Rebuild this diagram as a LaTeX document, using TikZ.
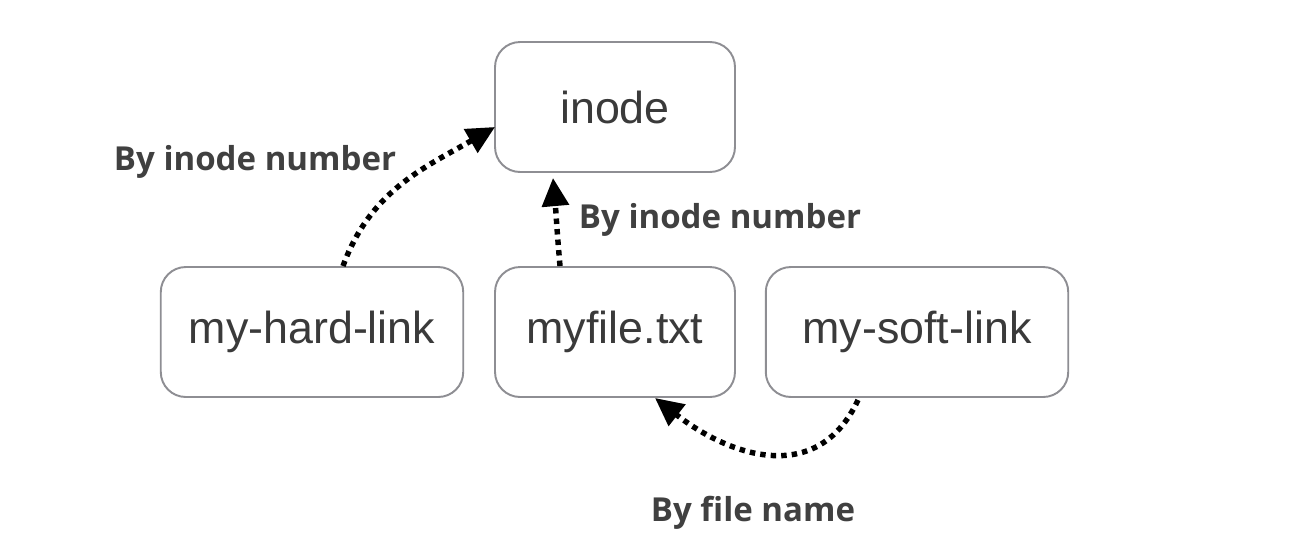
\documentclass[tikz,border=0pt]{standalone}
\usepackage{fontspec}
\setmainfont{Liberation Sans}
\newfontfamily\lblfont{Open Sans}
\usetikzlibrary{arrows.meta}
\definecolor{boxline}{HTML}{8E8E93}
\definecolor{boxtext}{HTML}{3A3A3A}
\definecolor{lbltext}{HTML}{404040}
\tikzset{
  fbox/.style={draw=boxline, line width=1.1pt, rounded corners=0.5cm,
    minimum width=4.8cm, minimum height=2.6cm, text=boxtext,
    font=\fontsize{25.5}{30}\selectfont, inner sep=0pt},
  widebox/.style={fbox, minimum width=6.05cm},
  dotarrow/.style={line width=3.1pt, dash pattern=on 3.1pt off 2.9pt,
    -{Triangle[length=16pt,width=15pt]}},
  lbl/.style={text=lbltext, font=\lblfont\bfseries\fontsize{18.8}{22}\selectfont, inner sep=0pt}
}
\begin{document}
\begin{tikzpicture}[x=0.02cm,y=-0.02cm]
\useasboundingbox (0,0) rectangle (1300,552);
\node[fbox] (inode) at (615,107) {inode};
\node[widebox] (hard) at (312,332) {my-hard-link};
\node[fbox] (file) at (615,332) {myfile.txt};
\node[widebox] (soft) at (917,332) {my-soft-link};

\coordinate (s1) at (343,266);
\coordinate (e1) at (495,127);
\coordinate (s2) at (560,266);
\coordinate (e2) at (553,178);
\coordinate (s3) at (858,400);
\coordinate (e3) at (655,398);

\draw[dotarrow] (s1) to[out=70,in=210] (e1);
\draw[dotarrow] (s2) to[out=95,in=-85] (e2);
\draw[dotarrow] (s3) to[out=-115,in=-38,looseness=1.2] (e3);

\node[lbl] (l1) at (255,162) {By inode number};
\node[lbl] (l2) at (720,220) {By inode number};
\node[lbl] (l3) at (753,513) {By file name};
\end{tikzpicture}
\end{document}
